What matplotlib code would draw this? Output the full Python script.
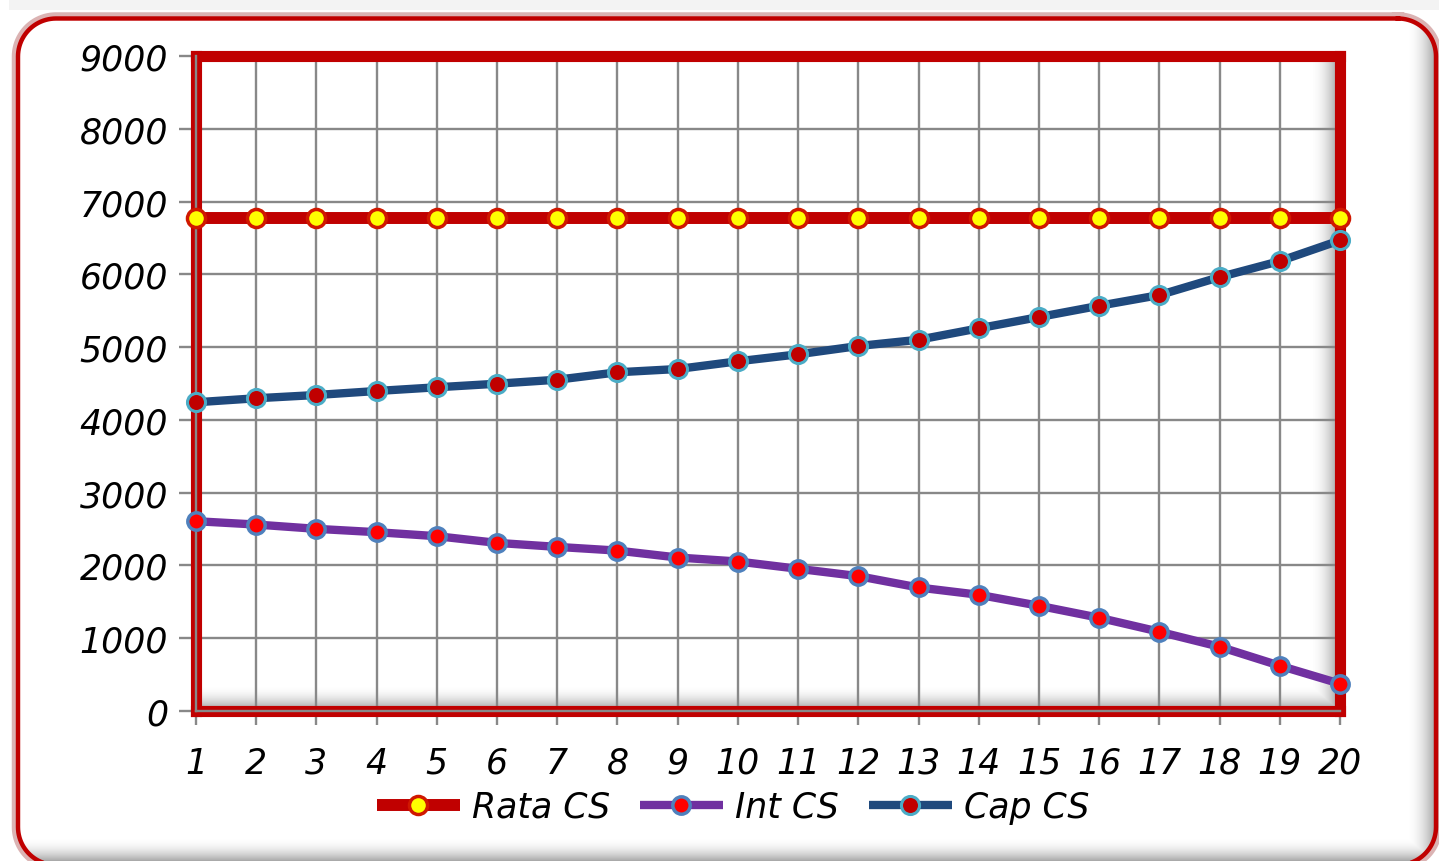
import numpy as np
import matplotlib
matplotlib.use("Agg")
import matplotlib.pyplot as plt
from matplotlib.patches import Polygon, Rectangle

# ---- data ----
periods = list(range(1, 21))
rata_cs = [6770] * 20
int_cs = [2608, 2562, 2503, 2457, 2402, 2310, 2255, 2204, 2109, 2054,
          1954, 1853, 1697, 1597, 1446, 1281, 1089, 883, 622, 375]
cap_cs = [4242, 4297, 4342, 4397, 4448, 4497, 4552, 4654, 4699, 4805,
          4901, 5015, 5101, 5258, 5413, 5568, 5715, 5962, 6182, 6467]
y_ticks = list(range(0, 9001, 1000))
series_labels = ["Rata CS", "Int CS", "Cap CS"]

plt.rcParams["font.family"] = ["DejaVu Sans"]
plt.rcParams["font.style"] = "italic"

W, H = 1439, 862
fig = plt.figure(figsize=(W / 100, H / 100), dpi=100)
fig.patch.set_facecolor("white")


def rounded_rect(x0, y0, x1, y1, r, n=24):
    """Closed outline of a rounded rectangle (y grows downwards)."""
    pts = []
    corners = [(x1 - r, y0 + r, -90, 0), (x1 - r, y1 - r, 0, 90),
               (x0 + r, y1 - r, 90, 180), (x0 + r, y0 + r, 180, 270)]
    for cx, cy, a0, a1 in corners:
        t = np.radians(np.linspace(a0, a1, n))
        pts.extend(zip(cx + r * np.cos(t), cy + r * np.sin(t)))
    pts.append(pts[0])
    return np.array(pts)


# ---- background canvas in pixel units (y downwards) ----
bg = fig.add_axes([0, 0, 1, 1], zorder=0)
bg.axis("off")

bg.add_patch(Rectangle((9, 0), W - 9, 11, color="#f3f3f3", lw=0))

outline = rounded_rect(18, 19.5, 1436, 866, 38)
bg.plot(outline[:, 0], outline[:, 1], color="#cf9a9a", lw=9, alpha=0.75,
        solid_joinstyle="round", zorder=0.5)
frame_fill = Polygon(outline, closed=True, fc="white", ec="none", zorder=0.8)
bg.add_patch(frame_fill)

# inner shading along the right and bottom edge of the chart frame
xx = np.arange(W)[None, :]
yy = np.arange(H)[:, None]
tr = np.clip((xx - 1406) / 28.0, 0, 1)
tb = np.clip((yy - 838) / 24.0, 0, 1)
alpha = np.maximum(tr ** 2 * 0.75, tb ** 2 * 0.8)
shade = np.zeros((H, W, 4))
shade[..., :3] = 0.55
shade[..., 3] = alpha
im = bg.imshow(shade, extent=(0, W, H, 0), aspect="auto", zorder=1)
im.set_clip_path(frame_fill)

bg.plot(outline[:, 0], outline[:, 1], color="#C00000", lw=3.2,
        solid_joinstyle="round", zorder=2)
bg.set_xlim(0, W)
bg.set_ylim(H, 0)

# ---- plot area ----
ax = fig.add_axes([196 / W, 150 / H, 1144 / W, 655 / H], zorder=2)
ax.patch.set_alpha(0)

# inner shading of the plot area (right and bottom edges)
ph, pw = 655, 1144
gx = np.arange(pw)[None, :]
gy = np.arange(ph)[:, None]
ar = np.clip((gx - (pw - 30)) / 28.0, 0, 1)
ab = np.clip((gy - (ph - 26)) / 24.0, 0, 1)
pa = np.maximum(ar ** 2 * 0.75, ab ** 2 * 0.75)
pshade = np.zeros((ph, pw, 4))
pshade[..., :3] = 0.5
pshade[..., 3] = pa
ax.imshow(pshade, extent=(0, 1, 0, 1), transform=ax.transAxes,
          aspect="auto", zorder=0.2)

ax.set_xlim(1, 20)
ax.set_ylim(0, 9000)
ax.set_xticks(periods)
ax.set_yticks(y_ticks)
ax.set_axisbelow(True)
ax.grid(True, color="#888888", lw=1.7)

for s in ax.spines.values():
    s.set_color("#C00000")
    s.set_linewidth(8)
    s.set_zorder(2.5)

ax.axvline(1, color="#888888", lw=1.7, zorder=2.6, clip_on=False)
ax.axhline(0, color="#888888", lw=1.7, zorder=2.6, clip_on=False)

ax.tick_params(axis="y", length=12, width=1.7, color="#888888", pad=8,
               labelsize=25, labelcolor="black")
ax.tick_params(axis="x", length=10, width=1.7, color="#888888", pad=15,
               labelsize=25, labelcolor="black")

l_rata, = ax.plot(periods, rata_cs, color="#C00000", lw=8.6,
                  marker="o", ms=13, mfc="#FFFF00", mec="#D01800", mew=2.5,
                  zorder=5, clip_on=False, solid_capstyle="butt")
l_int, = ax.plot(periods, int_cs, color="#7030A0", lw=6,
                 marker="o", ms=12.5, mfc="#FF0000", mec="#4F81BD", mew=2.5,
                 zorder=5, clip_on=False, solid_capstyle="butt")
l_cap, = ax.plot(periods, cap_cs, color="#1F497D", lw=6,
                 marker="o", ms=13, mfc="#C00000", mec="#4BACC6", mew=2.2,
                 zorder=5, clip_on=False, solid_capstyle="butt")

fig.legend([l_rata, l_int, l_cap], series_labels, loc="center",
           bbox_to_anchor=(733 / W, 1 - 808 / H), ncol=3, frameon=False,
           fontsize=25, handlelength=2.4, handletextpad=0.35,
           columnspacing=0.85, borderpad=0, borderaxespad=0)

fig.savefig("out.png", dpi=100)
